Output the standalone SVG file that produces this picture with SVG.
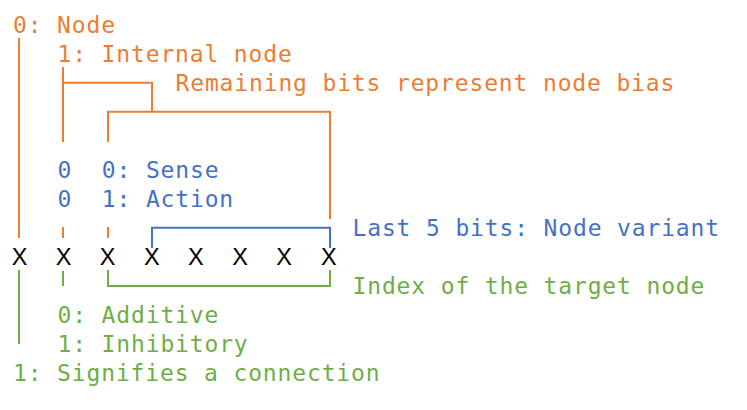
<svg xmlns="http://www.w3.org/2000/svg" width="747" height="410" viewBox="0 0 747 410">
<style>
text{font-family:"DejaVu Sans Mono","Liberation Mono",monospace;font-size:23px;letter-spacing:0.85px}
.o{fill:#ED7D31}.b{fill:#4472C4}.g{fill:#70AD47}
.x{font-family:"Liberation Sans",Arial,sans-serif;font-size:23.5px;letter-spacing:0;fill:#000;text-anchor:middle}
.lo{stroke:#ED7D31}.lb{stroke:#4472C4}.lg{stroke:#70AD47}
path{fill:none;stroke-width:2}
</style>
<rect width="747" height="410" fill="#fff"/>
<g id="connectors">
<path class="lo" d="M19 38V238"/>
<path class="lo" d="M63 67V142M63 82.7H152V111.7"/>
<path class="lo" d="M108 142V111.7H330V219"/>
<path class="lo" d="M63 227V238M108 227V238"/>
<path class="lb" d="M152 248V227.7H330V248"/>
<path class="lg" d="M108 270V286H330V270"/>
<path class="lg" d="M63 271V286"/>
<path class="lg" d="M19 270V344"/>
</g>
<g id="node-type"><text class="o" x="13" y="33.3">0: Node</text></g>
<g id="internal"><text class="o" x="57.5" y="62.3">1: Internal node</text></g>
<g id="bias"><text class="o" x="175.5" y="91.2">Remaining bits represent node bias</text></g>
<g id="sense"><text class="b" x="57.5" y="178.1">0</text><text class="b" x="101.8" y="178.1">0: Sense</text></g>
<g id="action"><text class="b" x="57.5" y="207">0</text><text class="b" x="101.8" y="207">1: Action</text></g>
<g id="variant"><text class="b" x="352.5" y="236">Last 5 bits: Node variant</text></g>
<g id="bits">
<text class="x" x="19.5" y="265">X</text>
<text class="x" x="63.6" y="265">X</text>
<text class="x" x="107.7" y="265">X</text>
<text class="x" x="151.8" y="265">X</text>
<text class="x" x="195.9" y="265">X</text>
<text class="x" x="240" y="265">X</text>
<text class="x" x="284.1" y="265">X</text>
<text class="x" x="328.9" y="265">X</text>
</g>
<g id="target"><text class="g" x="352.5" y="294">Index of the target node</text></g>
<g id="additive"><text class="g" x="57.5" y="322.8">0: Additive</text></g>
<g id="inhibitory"><text class="g" x="57.5" y="351.8">1: Inhibitory</text></g>
<g id="connection"><text class="g" x="13" y="380.7">1: Signifies a connection</text></g>
</svg>
